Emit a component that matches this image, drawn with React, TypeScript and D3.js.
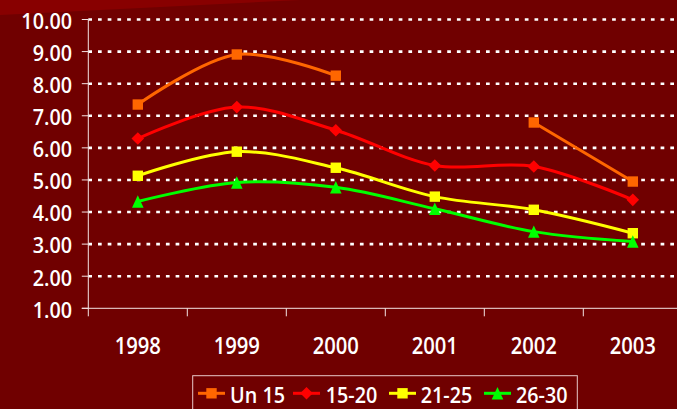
import React from "react";
import * as d3 from "d3";

const years = ["1998", "1999", "2000", "2001", "2002", "2003"];
const yTicks = [1, 2, 3, 4, 5, 6, 7, 8, 9, 10];
const seriesNames = ["Un 15", "15-20", "21-25", "26-30"];
const un15: (number | null)[] = [7.35, 8.91, 8.25, null, 6.79, 4.95];
const s1520: (number | null)[] = [6.29, 7.27, 6.55, 5.45, 5.42, 4.38];
const s2125: (number | null)[] = [5.13, 5.88, 5.38, 4.48, 4.07, 3.34];
const s2630: (number | null)[] = [4.33, 4.92, 4.77, 4.1, 3.39, 3.08];

const seriesValues = [un15, s1520, s2125, s2630];
const colors = ["#FF6600", "#FF0000", "#FFFF00", "#00FF00"];
const markers = ["square", "diamond", "square", "triangle"];

const W = 677;
const H = 409;
const left = 88.3;
const step = 99;
const top = 19.5;
const bottom = 308.3;
const FONT = "'Open Sans', 'Noto Sans', sans-serif";
const SX = 0.9;

function markerPath(kind: string, cx: number, cy: number): string {
  if (kind === "square") {
    const s = 5.2;
    return `M${cx - s},${cy - s}H${cx + s}V${cy + s}H${cx - s}Z`;
  }
  if (kind === "diamond") {
    const s = 6.3;
    return `M${cx},${cy - s}L${cx + s},${cy}L${cx},${cy + s}L${cx - s},${cy}Z`;
  }
  const w = 5.8;
  const h = 6.2;
  return `M${cx},${cy - h}L${cx + w},${cy + h}L${cx - w},${cy + h}Z`;
}

function Label(props: {
  x: number;
  y: number;
  anchor: "start" | "middle" | "end";
  size: number;
  children: React.ReactNode;
}) {
  return (
    <text
      transform={`translate(${props.x},${props.y}) scale(${SX},1)`}
      textAnchor={props.anchor}
      fill="#FFFFFF"
      fontFamily={FONT}
      fontWeight={600}
      fontSize={props.size}
    >
      {props.children}
    </text>
  );
}

export default function App() {
  const x = d3
    .scaleBand<string>()
    .domain(years)
    .range([left, left + step * years.length])
    .paddingInner(0)
    .paddingOuter(0);
  const y = d3.scaleLinear().domain([1, 10]).range([bottom, top]);
  const cx = (yr: string) => (x(yr) as number) + x.bandwidth() / 2;

  const line = d3
    .line<number | null>()
    .defined((d) => d !== null)
    .x((_, i) => cx(years[i]))
    .y((d) => y(d as number))
    .curve(d3.curveCatmullRom.alpha(0.5));

  const legendX = [198, 293, 389, 484];
  const legendTextX = [230, 325.7, 420.7, 516];
  const legendY = 393.3;

  return (
    <div style={{ position: "fixed", left: 0, top: 0, width: W, height: H }}>
      <svg width={W} height={H} style={{ display: "block" }}>
        <rect x={0} y={0} width={W} height={H} fill="#700000" />
        <polygon points="0,0 300,0 0,15" fill="#880000" />

        {/* gridlines */}
        {yTicks
          .filter((t) => t > 1)
          .map((t) => (
            <line
              key={"g" + t}
              x1={left}
              x2={W + 10}
              y1={y(t)}
              y2={y(t)}
              stroke="#FFFFFF"
              strokeWidth={2.6}
              strokeDasharray="3.7 6"
            />
          ))}

        {/* y axis */}
        <line x1={left} x2={left} y1={top} y2={bottom} stroke="#F4E4E4" strokeWidth={1} />
        {yTicks.map((t) => (
          <g key={"y" + t}>
            <line x1={left - 6.5} x2={left} y1={y(t)} y2={y(t)} stroke="#F4E4E4" strokeWidth={1} />
            <Label x={72} y={y(t) + 9.3} anchor="end" size={22}>
              {t.toFixed(2)}
            </Label>
          </g>
        ))}

        {/* x axis */}
        <line x1={left - 6.5} x2={W + 10} y1={bottom} y2={bottom} stroke="#F4E4E4" strokeWidth={1} />
        {years.map((yr) => (
          <g key={"x" + yr}>
            <line
              x1={x(yr) as number}
              x2={x(yr) as number}
              y1={bottom}
              y2={bottom + 8}
              stroke="#F4E4E4"
              strokeWidth={1}
            />
            <Label x={cx(yr)} y={354.3} anchor="middle" size={22.5}>
              {yr}
            </Label>
          </g>
        ))}

        {/* series */}
        {seriesValues.map((vals, si) => (
          <g key={"s" + si}>
            <path
              d={line(vals) || ""}
              fill="none"
              stroke={colors[si]}
              strokeWidth={3}
              strokeLinejoin="round"
            />
            {vals.map((v, i) =>
              v === null ? null : (
                <path
                  key={i}
                  d={markerPath(markers[si], cx(years[i]), y(v))}
                  fill={colors[si]}
                />
              )
            )}
          </g>
        ))}

        {/* legend */}
        <rect
          x={192.7}
          y={375.7}
          width={384.6}
          height={45}
          fill="none"
          stroke="#E8C8C8"
          strokeWidth={1}
        />
        {seriesNames.map((name, si) => (
          <g key={"l" + si}>
            <line
              x1={legendX[si]}
              x2={legendX[si] + 27}
              y1={legendY}
              y2={legendY}
              stroke={colors[si]}
              strokeWidth={3}
            />
            <path d={markerPath(markers[si], legendX[si] + 13.5, legendY)} fill={colors[si]} />
            <Label x={legendTextX[si]} y={402.7} anchor="start" size={22}>
              {name}
            </Label>
          </g>
        ))}
      </svg>
    </div>
  );
}
